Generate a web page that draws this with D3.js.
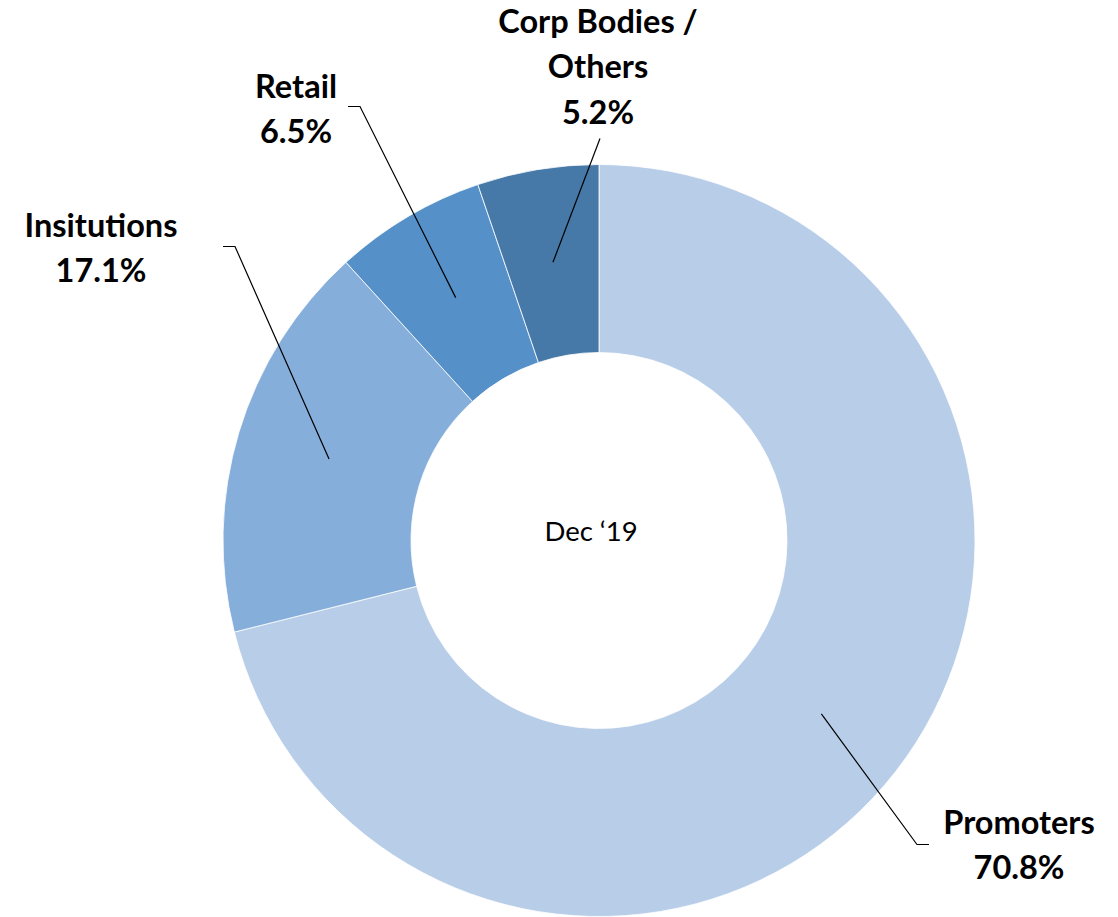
<!DOCTYPE html>
<html>
<head>
<meta charset="utf-8">
<script src="https://cdn.jsdelivr.net/npm/d3@7"></script>
<style>
  html, body { margin: 0; padding: 0; background: #fff; }
  svg { display: block; }
  .lbl { font-family: Lato, "Open Sans", sans-serif; font-weight: bold; font-size: 32.5px; fill: #000; }
  .center { font-family: Lato, "Open Sans", sans-serif; font-size: 27.5px; fill: #000; }
</style>
</head>
<body>
<svg id="chart" width="1118" height="917"></svg>
<script>
// data
const categories = ['Promoters', 'Insitutions', 'Retail', 'Corp Bodies / Others'];
const shares = [70.8, 17.1, 6.5, 5.2];
const colors = ['#B8CDE8', '#85AEDB', '#5590C8', '#4679A8'];
const centerLabel = 'Dec \u201819';

// label layout (text anchor point + leader elbow), relative to chart centre
const labelLines = [
  ['Promoters', '70.8%'],
  ['Insitutions', '17.1%'],
  ['Retail', '6.5%'],
  ['Corp Bodies /', 'Others', '5.2%']
];
const labelPos = [
  { x: 420, y: 293, end: [318, 304], elbow: [330, 304] },
  { x: -498, y: -304, end: [-364, -294], elbow: [-376, -294] },
  { x: -303, y: -443, end: [-239, -434], elbow: [-251, -434] },
  { x: -1, y: -508, end: [1, -402], elbow: null }
];

const width = 1118, height = 917;
const cx = 599, cy = 540.5;
const outerR = 376, innerR = 188;

const svg = d3.select('#chart');
const g = svg.append('g').attr('transform', `translate(${cx},${cy})`);

const pie = d3.pie().sort(null).value(d => d)(shares);
const arc = d3.arc().innerRadius(innerR).outerRadius(outerR);

g.selectAll('path.slice')
  .data(pie)
  .enter()
  .append('path')
  .attr('class', 'slice')
  .attr('d', arc)
  .attr('fill', (d, i) => colors[i])
  .attr('stroke', '#fff')
  .attr('stroke-width', 0.8);

// leader lines
pie.forEach((d, i) => {
  const c = arc.centroid(d);
  const p = labelPos[i];
  const pts = [c, p.end];
  if (p.elbow) pts.push(p.elbow);
  g.append('path')
    .attr('d', d3.line()(pts))
    .attr('fill', 'none')
    .attr('stroke', '#000')
    .attr('stroke-width', 1.2);
});

// labels
labelLines.forEach((lines, i) => {
  const p = labelPos[i];
  const t = g.append('text')
    .attr('class', 'lbl')
    .attr('text-anchor', 'middle')
    .attr('x', p.x)
    .attr('y', p.y);
  lines.forEach((s, j) => {
    t.append('tspan')
      .attr('x', p.x)
      .attr('dy', j === 0 ? 0 : 45.5)
      .text(s);
  });
});

g.append('text')
  .attr('class', 'center')
  .attr('text-anchor', 'middle')
  .attr('x', -8)
  .attr('y', 0)
  .text(centerLabel);
</script>
</body>
</html>
